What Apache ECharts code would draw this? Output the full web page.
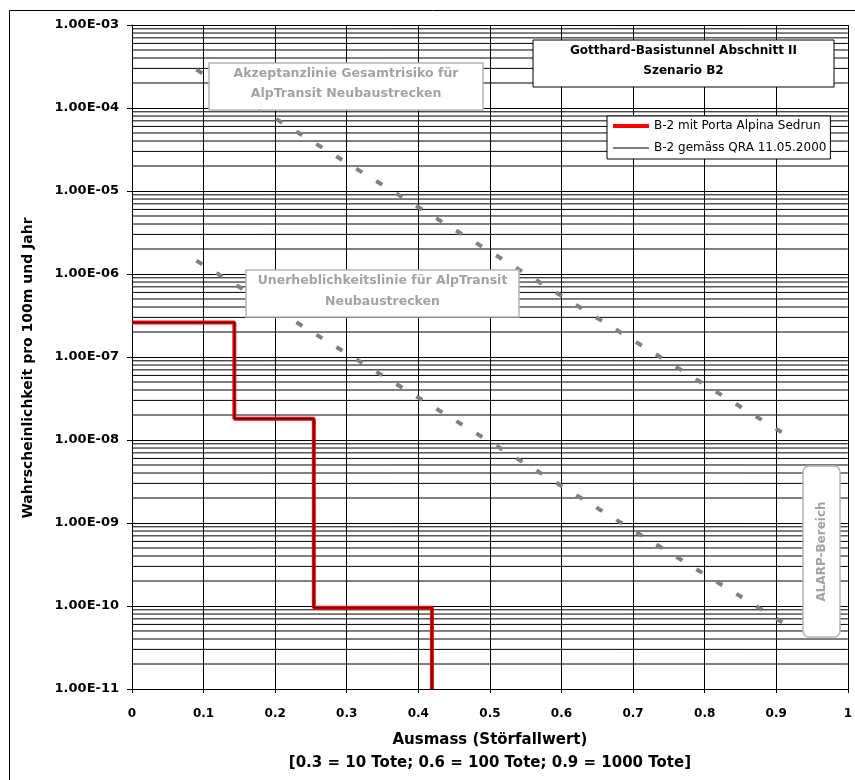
<!DOCTYPE html>
<html>
<head>
<meta charset="utf-8">
<script src="https://cdn.jsdelivr.net/npm/echarts@6/dist/echarts.min.js"></script>
<style>
  html, body { margin: 0; padding: 0; background: #fff; }
  #chart { width: 855px; height: 780px; }
</style>
</head>
<body>
<div id="chart"></div>
<script>
// x ticks (Störfallwert) and log decades for the y axis
const xTicks = [0, 0.1, 0.2, 0.3, 0.4, 0.5, 0.6, 0.7, 0.8, 0.9, 1]
const yDecades = [-11, -10, -9, -8, -7, -6, -5, -4]
const minorMantissas = [2, 3, 4, 5, 6, 7, 8, 9]

// Akzeptanzlinie Gesamtrisiko (start / end)
const acceptX = [0.09, 0.925]
const acceptY = [2.9e-4, 1.0e-8]
// Unerheblichkeitslinie (start / end)
const negligX = [0.09, 0.925]
const negligY = [1.45e-6, 5.2e-11]
// B-2 step curve
const stepX = [0, 0.143, 0.254, 0.419]
const stepY = [2.6e-7, 1.8e-8, 9.5e-11, 1e-11]

const font = '"DejaVu Sans", Verdana, sans-serif'
const greyText = '#a3a3a3'
const greyLine = '#b4b4b4'
const TOP = 100

const zip = (xs, ys) => xs.map((x, i) => [x, ys[i]])

// minor horizontal grid lines: 2..9 x 10^d, broken apart by empty points
const xFirst = xTicks[0]
const xLast = xTicks[xTicks.length - 1]
const minorGrid = []
yDecades.forEach(d => {
  minorMantissas.forEach(m => {
    const v = m * Math.pow(10, d)
    minorGrid.push([xFirst, v], [xLast, v], [xLast, '-'])
  })
})

const sci = v => {
  const parts = v.toExponential(2).split('e')
  const n = parseInt(parts[1], 10)
  return parts[0] + 'E' + (n < 0 ? '-' : '+') + String(Math.abs(n)).padStart(2, '0')
}

// white box with centred text lines, drawn above the plot
const textBox = (x, y, w, h, lines, opts) => {
  const items = [{
    type: 'rect', z: TOP,
    shape: { x: x, y: y, width: w, height: h, r: opts.r || 0 },
    style: { fill: '#fff', stroke: opts.stroke, lineWidth: opts.lineWidth }
  }]
  lines.forEach((t, i) => {
    items.push({
      type: 'text', z: TOP + 1,
      x: x + w / 2, y: y + opts.firstY + i * opts.gap,
      rotation: opts.rotation || 0,
      style: { text: t, align: 'center', verticalAlign: 'middle', font: opts.font, fill: opts.color }
    })
  })
  return items
}

const chart = echarts.init(document.getElementById('chart'), null, { renderer: 'canvas' })

const option = {
  animation: false,
  backgroundColor: '#fff',
  textStyle: { fontFamily: font },
  grid: { left: 132, right: 4, top: 25, bottom: 85, containLabel: false },
  legend: {
    left: 607,
    top: 116,
    z: TOP,
    orient: 'vertical',
    backgroundColor: '#fff',
    borderColor: '#000',
    borderWidth: 1,
    borderRadius: 0,
    padding: [4, 4, 5, 4],
    itemGap: 10,
    itemWidth: 36,
    itemHeight: 14,
    itemStyle: { opacity: 0 },
    textStyle: { fontSize: 12, color: '#000', fontFamily: font },
    data: [
      { name: 'B-2 mit Porta Alpina Sedrun', lineStyle: { width: 4, color: '#ff0000' } },
      { name: 'B-2 gemäss QRA 11.05.2000', lineStyle: { width: 1, color: '#000' } }
    ]
  },
  xAxis: {
    type: 'value',
    min: 0,
    max: 1,
    interval: 0.1,
    name: 'Ausmass (Störfallwert)\n[0.3 = 10 Tote; 0.6 = 100 Tote; 0.9 = 1000 Tote]',
    nameLocation: 'middle',
    nameGap: 40,
    nameTextStyle: { fontSize: 15, fontWeight: 'bold', color: '#000', lineHeight: 23, fontFamily: font },
    axisLine: { show: true, lineStyle: { color: '#000', width: 1 } },
    axisTick: { show: true, length: 4, lineStyle: { color: '#000' } },
    axisLabel: {
      fontSize: 12,
      fontWeight: 'bold',
      color: '#000',
      margin: 19,
      formatter: v => String(+v.toFixed(1))
    },
    splitLine: { show: true, lineStyle: { color: '#000', width: 1 } }
  },
  yAxis: {
    type: 'log',
    logBase: 10,
    min: 1e-11,
    max: 1e-3,
    interval: 1,
    axisLine: { show: true, lineStyle: { color: '#000', width: 1 } },
    axisTick: { show: true, length: 5, lineStyle: { color: '#000' } },
    axisLabel: {
      fontSize: 13,
      fontWeight: 'bold',
      color: '#000',
      margin: 13,
      formatter: sci
    },
    splitLine: { show: true, lineStyle: { color: '#000', width: 1 } }
  },
  series: [
    {
      name: 'minor',
      type: 'line',
      data: minorGrid,
      symbol: 'none',
      silent: true,
      connectNulls: false,
      z: 1,
      lineStyle: { color: '#000', width: 1 }
    },
    {
      name: 'Akzeptanzlinie',
      type: 'line',
      data: zip(acceptX, acceptY),
      symbol: 'none',
      silent: true,
      z: 3,
      lineStyle: { color: '#808080', width: 4, type: [7, 16.5], cap: 'butt' }
    },
    {
      name: 'Unerheblichkeitslinie',
      type: 'line',
      data: zip(negligX, negligY),
      symbol: 'none',
      silent: true,
      z: 3,
      lineStyle: { color: '#808080', width: 4, type: [7, 16.5], cap: 'butt' }
    },
    {
      name: 'B-2 mit Porta Alpina Sedrun',
      type: 'line',
      step: 'end',
      data: zip(stepX, stepY),
      symbol: 'none',
      z: 4,
      color: '#ff0000',
      lineStyle: { color: '#ff0000', width: 4 }
    },
    {
      name: 'B-2 gemäss QRA 11.05.2000',
      type: 'line',
      step: 'end',
      data: zip(stepX, stepY),
      symbol: 'none',
      z: 5,
      color: '#000',
      lineStyle: { color: '#000', width: 1 }
    }
  ],
  graphic: [
    {
      type: 'polyline', z: TOP,
      silent: true,
      shape: { points: [[9.5, 780], [9.5, 10.5], [855, 10.5]] },
      style: { stroke: '#000', lineWidth: 1, fill: null }
    },
    {
      type: 'text', x: 28, y: 368, rotation: Math.PI / 2, z: TOP,
      style: { text: 'Wahrscheinlichkeit pro 100m und Jahr', align: 'center', verticalAlign: 'middle', font: 'bold 14px ' + font, fill: '#000' }
    }
  ]
    .concat(textBox(533, 40, 301, 47, ['Gotthard-Basistunnel Abschnitt II', 'Szenario B2'],
      { stroke: '#000', lineWidth: 1, firstY: 11, gap: 20, font: 'bold 12px ' + font, color: '#000' }))
    .concat(textBox(209, 63, 274, 47, ['Akzeptanzlinie Gesamtrisiko für', 'AlpTransit Neubaustrecken'],
      { stroke: greyLine, lineWidth: 1.5, firstY: 11, gap: 20, font: 'bold 12.5px ' + font, color: greyText }))
    .concat(textBox(246, 270, 273, 47, ['Unerheblichkeitslinie für AlpTransit', 'Neubaustrecken'],
      { stroke: greyLine, lineWidth: 1.5, firstY: 11, gap: 21, font: 'bold 12.5px ' + font, color: greyText }))
    .concat(textBox(803, 466, 37, 171, ['ALARP-Bereich'],
      { stroke: greyLine, lineWidth: 1.5, r: 6, firstY: 85.5, gap: 0, rotation: Math.PI / 2, font: 'bold 12px ' + font, color: greyText }))
}

option && chart.setOption(option)
</script>
</body>
</html>
